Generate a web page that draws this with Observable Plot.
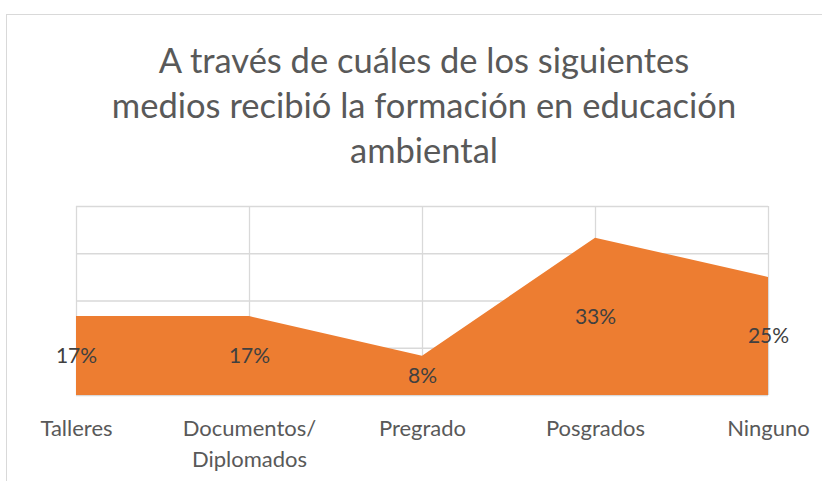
<!DOCTYPE html>
<html>
<head>
<meta charset="utf-8">
<script src="https://cdn.jsdelivr.net/npm/d3@7"></script>
<script src="https://cdn.jsdelivr.net/npm/@observablehq/plot@0.6"></script>
<style>
  html, body { margin: 0; padding: 0; background: #fff; overflow: hidden; }
  #wrap { position: relative; width: 822px; height: 481px; font-family: Lato, "Open Sans", sans-serif; }
  #frame { position: absolute; left: 6px; top: 14px; width: 900px; height: 600px; border-left: 1px solid #d9d9d9; border-top: 1px solid #d9d9d9; }
  #title { position: absolute; left: 0; top: 37px; width: 848px; text-align: center; font-size: 34.5px; line-height: 45px; color: #595959; }
  #chart { position: absolute; left: 0; top: 190px; }
</style>
</head>
<body>
<div id="wrap">
  <div id="frame"></div>
  <div id="title">A través de cuáles de los siguientes<br>medios recibió la formación en educación<br>ambiental</div>
  <div id="chart"></div>
</div>
<script>
const categories = ["Talleres", "Documentos/\nDiplomados", "Pregrado", "Posgrados", "Ninguno"];
const values = [16.7, 16.7, 8.3, 33.3, 25];
const valueLabels = ["17%", "17%", "8%", "33%", "25%"];
const yTicks = [0, 10, 20, 30, 40];

const data = categories.map((c, i) => ({cat: c, value: values[i], label: valueLabels[i]}));

const plot = Plot.plot({
  width: 822,
  height: 291,
  marginLeft: 76,
  marginRight: 54,
  marginTop: 16,
  marginBottom: 86,
  style: {fontFamily: "Lato, 'Open Sans', sans-serif", background: "transparent"},
  x: {type: "point", domain: categories, padding: 0},
  y: {domain: [0, 40], axis: null},
  marks: [
    Plot.ruleY(yTicks, {stroke: "#d9d9d9", strokeWidth: 1.3}),
    Plot.ruleX(categories, {stroke: "#d9d9d9", strokeWidth: 1.3}),
    Plot.areaY(data, {x: "cat", y: "value", fill: "#ED7D31"}),
    Plot.text(data, {x: "cat", y: d => d.value / 2, text: "label", fill: "#404040", fontSize: 21}),
    Plot.axisX({tickSize: 0, tickPadding: 18, fontSize: 22, lineHeight: 1.42, fill: "#595959", label: null})
  ]
});
document.getElementById("chart").appendChild(plot);
</script>
</body>
</html>
